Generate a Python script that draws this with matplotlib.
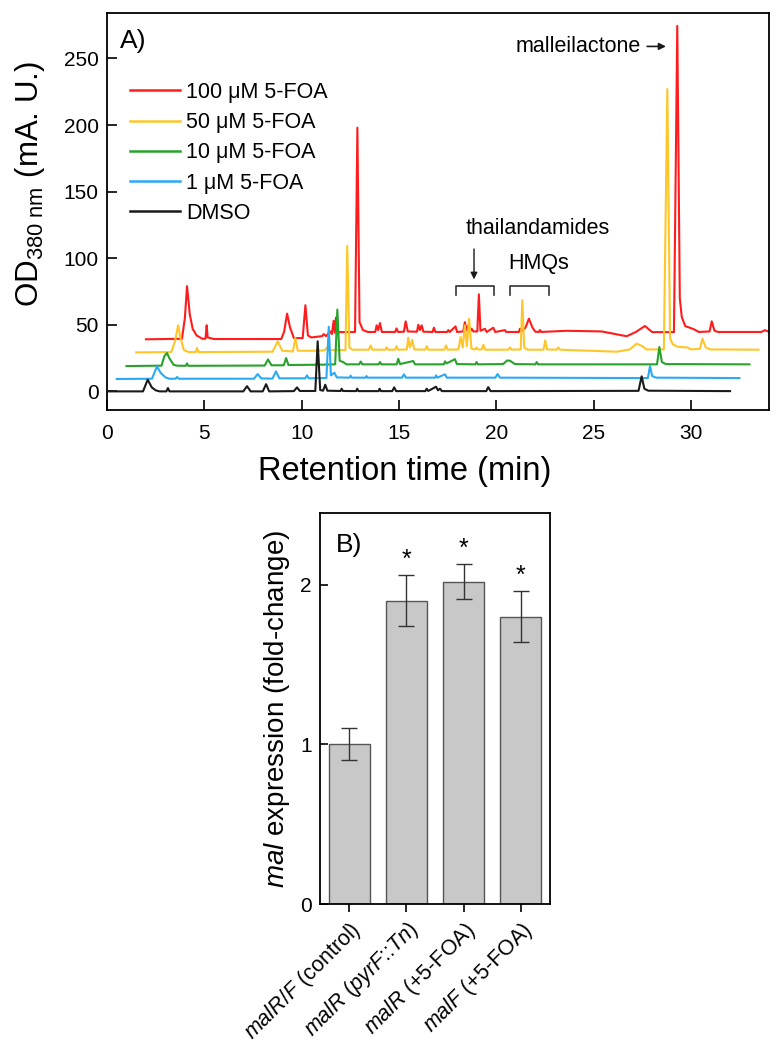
import matplotlib
matplotlib.use("Agg")
import matplotlib.pyplot as plt

plt.rcParams['font.family'] = ['Liberation Sans', 'DejaVu Sans']
plt.rcParams['mathtext.fontset'] = 'custom'
plt.rcParams['mathtext.rm'] = 'Liberation Sans'
plt.rcParams['mathtext.it'] = 'Liberation Sans:italic'

# --- panel A: chromatograms (raw retention time / signal) ---
dmso_t = [0.0, 1.85, 2.09, 2.3, 2.5, 2.7, 3.05, 3.13, 3.21, 7.0, 7.19, 7.38, 8.0, 8.17, 8.33,
          9.6, 9.76, 9.9, 10.7, 10.82, 10.95, 11.1, 11.21, 11.32, 12.0, 12.05, 12.12,
          12.8, 12.85, 12.92, 13.95, 14.0, 14.07, 14.65, 14.75, 14.85, 16.35, 16.42, 16.5,
          16.9, 17.0, 17.1, 17.2, 19.48, 19.58, 19.7, 27.3, 27.46, 27.6, 27.8, 32.0]
dmso_v = [0.0, 0.0, 8.8, 3.0, 0.8, 0.0, 0.0, 2.5, 0.0, 0.0, 3.9, 0.0, 0.0, 5.4, 0.0,
          0.2, 3.0, 0.3, 0.3, 37.6, 1.0, 0.5, 5.0, 0.5, 0.3, 2.0, 0.3,
          0.2, 2.0, 0.2, 0.2, 2.0, 0.2, 0.2, 3.0, 0.2, 0.2, 2.0, 0.3,
          3.5, 0.8, 2.0, 0.2, 0.2, 3.2, 0.2, 0.4, 11.3, 2.0, 0.5, 0.2]

foa1_t = [0.0, 1.81, 2.07, 2.25, 2.5, 2.7, 3.02, 3.1, 3.18, 7.05, 7.24, 7.42, 8.0, 8.18, 8.35,
          9.68, 9.77, 9.86, 10.77, 10.89, 11.0, 11.18, 11.3, 11.95, 12.01, 12.07,
          12.78, 12.83, 12.88, 14.65, 14.75, 14.85, 16.35, 16.4, 16.47, 16.86, 16.95,
          19.45, 19.56, 19.68, 27.28, 27.39, 27.5, 27.7, 31.98]
foa1_v = [-0.7, -0.5, 8.8, 4.0, 0.5, -0.5, -0.5, 0.8, -0.5, -0.5, 3.0, -0.3, -0.4, 5.0, -0.2,
          -0.2, 2.0, -0.2, 0.0, 38.5, 2.0, 4.0, 0.5, 0.3, 1.8, 0.3,
          0.3, 1.5, 0.3, 0.3, 2.8, 0.3, 0.3, 2.0, 0.3, 2.8, 0.3,
          0.3, 3.0, 0.3, 0.0, 9.0, 1.5, 0.3, 0.0]

foa10_t = [0.0, 1.8, 1.95, 2.08, 2.2, 2.42, 2.6, 3.05, 3.11, 3.17, 7.1, 7.27, 7.45, 8.08, 8.2, 8.32,
           9.72, 9.79, 9.86, 10.72, 10.83, 10.95, 11.13, 11.3, 11.95, 12.03, 12.11,
           12.95, 13.02, 13.09, 13.88, 13.96, 14.05, 14.73, 14.82, 16.3, 16.36, 16.45, 16.87, 16.97,
           17.92, 17.98, 18.05, 19.35, 19.55, 19.7, 19.95, 21.0, 21.07, 21.14,
           27.25, 27.37, 27.5, 27.7, 32.0]
foa10_v = [-1.0, -0.7, 6.5, 8.8, 5.0, 0.0, -0.7, -0.8, 1.0, -0.8, -0.6, 4.0, -0.4, -0.4, 5.0, -0.2,
           0.0, 1.0, 0.0, 0.3, 41.4, 3.0, 2.0, 0.3, 0.3, 2.4, 0.3,
           0.3, 2.0, 0.3, 0.3, 4.5, 0.5, 2.8, 0.3, 0.3, 2.5, 1.0, 4.2, 0.5,
           0.3, 2.0, 0.3, 0.5, 3.2, 3.0, 0.5, 0.3, 2.0, 0.3,
           0.3, 13.3, 2.0, 0.5, 0.3]

foa50_t = [0.0, 1.8, 2.0, 2.15, 2.28, 2.45, 2.7, 3.05, 3.12, 3.2, 7.0, 7.27, 7.5, 8.05, 8.17, 8.3,
           9.25, 9.32, 9.4, 9.7, 9.8, 9.9, 10.75, 10.84, 10.95, 11.1, 11.95, 12.04, 12.13,
           12.8, 12.86, 12.93, 13.3, 13.37, 13.45, 13.9, 13.97, 14.06, 14.18, 14.28,
           14.85, 14.92, 15.0, 15.83, 15.91, 16.0, 16.55, 16.66, 16.77, 16.88, 16.98, 17.1, 17.22,
           17.42, 17.48, 17.55, 17.75, 17.83, 17.92, 19.12, 19.2, 19.28,
           19.75, 19.83, 19.93, 20.1, 20.92, 21.01, 21.1, 21.6, 21.68, 21.76, 24.68,
           25.35, 25.7, 26.0, 26.2, 27.1, 27.28, 27.42, 27.55, 27.8, 28.3, 28.5,
           28.95, 29.08, 29.25, 29.5, 31.96]
foa50_v = [-0.7, -0.5, 8.0, 19.6, 10.0, 1.0, -0.5, -0.5, 2.6, -0.5, -0.2, 7.6, 0.5, 0.0, 10.0, 0.5,
           0.5, 2.0, 0.5, 1.0, 3.0, 1.0, 1.0, 79.3, 3.0, 1.3, 1.3, 4.5, 1.3,
           1.3, 3.0, 1.3, 1.3, 4.0, 1.3, 1.5, 10.3, 3.0, 8.8, 1.5,
           1.3, 4.0, 1.3, 1.3, 4.5, 1.3, 1.5, 10.8, 3.0, 19.6, 4.0, 24.6, 2.0,
           1.5, 3.0, 1.5, 1.5, 5.0, 1.3, 1.3, 3.0, 1.3,
           1.5, 38.4, 3.0, 1.3, 1.3, 8.3, 1.5, 1.3, 3.0, 1.3, -0.2,
           1.5, 5.8, 4.0, 1.5, 1.5, 197.0, 10.0, 5.5, 3.5, 3.0, 1.5,
           2.0, 9.6, 3.0, 1.5, 1.3]

foa100_t = [0.0, 1.85, 2.0, 2.11, 2.25, 2.4, 2.6, 2.9, 3.06, 3.12, 3.17, 3.5, 6.95, 7.1, 7.25, 7.4, 7.6,
            8.05, 8.19, 8.32, 8.5, 9.05, 9.13, 9.25, 9.47, 9.55, 9.64, 9.7, 9.76, 9.84,
            10.74, 10.86, 10.97, 11.15, 11.4, 11.78, 11.85, 11.93, 12.02, 12.12,
            12.8, 12.87, 12.95, 13.25, 13.34, 13.45, 13.92, 13.99, 14.07, 14.16, 14.25,
            14.72, 14.79, 14.87, 15.47, 15.53, 15.6, 15.9, 15.98,
            16.3, 16.38, 16.47, 16.56, 16.65, 16.73, 16.82, 17.02, 17.1, 17.18,
            17.41, 17.5, 17.84, 17.94, 18.44, 18.5, 19.15, 19.21, 19.3, 19.5, 19.67, 19.85, 20.0,
            20.18, 20.24, 20.3, 21.61, 23.41, 24.69, 25.15, 25.63, 26.0,
            27.12, 27.29, 27.42, 27.52, 27.7, 28.12, 28.4, 28.95, 29.06, 29.2, 29.4,
            31.6, 31.8, 32.0]
foa100_v = [-0.9, -0.5, 15.0, 39.0, 18.0, 7.0, 2.0, -0.5, -0.5, 9.6, 0.5, -0.7, -0.7, 5.0, 18.4, 8.0, 0.0,
            0.0, 24.7, 2.0, 0.5, 1.5, 3.0, 1.5, 5.0, 3.0, 13.0, 4.0, 15.4, 4.5,
            4.6, 158.0, 12.0, 6.0, 4.6, 4.6, 9.6, 6.0, 11.3, 4.6,
            4.6, 7.3, 4.6, 4.8, 12.6, 5.0, 4.8, 10.0, 6.0, 9.6, 4.8,
            4.6, 7.8, 4.6, 4.6, 6.0, 4.6, 8.8, 4.6,
            5.0, 12.0, 6.0, 9.6, 5.0, 7.0, 5.0, 5.0, 32.9, 5.5,
            7.0, 4.6, 7.8, 4.6, 6.0, 4.6, 4.6, 7.0, 5.0, 8.0, 14.6, 8.0, 4.8,
            4.6, 6.0, 4.6, 5.5, 5.0, 1.4, 4.5, 9.1, 4.5,
            4.5, 234.4, 30.0, 15.9, 9.0, 6.8, 4.6, 5.0, 12.6, 5.5, 4.6,
            4.6, 6.0, 4.6]

trace_labels = ['100 \u03bcM 5-FOA', '50 \u03bcM 5-FOA', '10 \u03bcM 5-FOA', '1 \u03bcM 5-FOA', 'DMSO']
trace_t = [foa100_t, foa50_t, foa10_t, foa1_t, dmso_t]
trace_v = [foa100_v, foa50_v, foa10_v, foa1_v, dmso_v]
trace_colors = ['#ff1c1c', '#ffc629', '#27a32a', '#2aa9f5', '#1a1a1a']

# --- panel B: qRT-PCR ---
strains = [r'$\it{malR/F}$ (control)', r'$\it{malR}$ ($\it{pyrF}$::$\it{Tn}$)',
           r'$\it{malR}$ (+5-FOA)', r'$\it{malF}$ (+5-FOA)']
fold = [1.00, 1.90, 2.02, 1.80]
fold_err = [0.10, 0.16, 0.11, 0.16]
signif = [False, True, True, True]

fig = plt.figure(figsize=(7.81, 10.5), dpi=100)

# waterfall offsets: each trace shifted 0.5 min and 10 mAU from the one below
ax = fig.add_axes([0.137, 0.6095, 0.8476, 0.378])
n = len(trace_t)
for i in range(n):
    k = n - 1 - i
    xs = [t + 0.5 * k for t in trace_t[i]]
    ys = [v + 10 * k for v in trace_v[i]]
    ax.plot(xs, ys, color=trace_colors[i], lw=1.5, label=trace_labels[i], zorder=2 + i)

ax.set_xlim(0, 34)
ax.set_ylim(-14, 284)
ax.set_xticks([0, 5, 10, 15, 20, 25, 30])
ax.set_yticks([0, 50, 100, 150, 200, 250])
ax.tick_params(direction='in', length=7, width=1.2, labelsize=15)
ax.tick_params(axis='x', pad=10)
ax.tick_params(axis='y', pad=6)
for s in ax.spines.values():
    s.set_linewidth(1.3)
ax.set_xlabel('Retention time (min)', fontsize=23.5)
ax.xaxis.set_label_coords(0.45, -0.115)
ax.set_ylabel(r'OD$_{\mathrm{380\ nm}}$ (mA. U.)', fontsize=22.5)
ax.yaxis.set_label_coords(-0.09, 0.57)
ax.text(0.02, 0.96, 'A)', transform=ax.transAxes, fontsize=19, va='top', ha='left')

leg = ax.legend(loc='upper left', bbox_to_anchor=(0.035, 0.827), frameon=False, fontsize=15.5,
                handlelength=2.3, handletextpad=0.3, labelspacing=0.43, borderpad=0, borderaxespad=0)
for h in leg.get_lines():
    h.set_linewidth(1.8)

# annotations
ax.annotate('', xy=(28.85, 259), xytext=(27.6, 259),
            arrowprops=dict(arrowstyle='-|>', color='#1a1a1a', lw=1.2, mutation_scale=10))
ax.text(27.4, 259, 'malleilactone', fontsize=15.5, ha='right', va='center')
ax.text(22.1, 122, 'thailandamides', fontsize=15.5, ha='center', va='center')
ax.annotate('', xy=(18.85, 82), xytext=(18.85, 109),
            arrowprops=dict(arrowstyle='-|>', color='#1a1a1a', lw=1.0, mutation_scale=10))
ax.text(22.15, 96, 'HMQs', fontsize=15.5, ha='center', va='center')
for a, b in [(17.9, 19.9), (20.7, 22.68)]:
    ax.plot([a, a, b, b], [72, 79, 79, 72], color='#333333', lw=1.2)

# panel B
bx = fig.add_axes([0.4097, 0.139, 0.2945, 0.3724])
pos = list(range(len(fold)))
bx.bar(pos, fold, width=0.72, color='#c8c8c8', edgecolor='#555555', linewidth=1.0, zorder=2)
bx.errorbar(pos, fold, yerr=fold_err, fmt='none', ecolor='#333333', elinewidth=1.0,
            capsize=6, capthick=1.0, zorder=3)
for p, f, e, s in zip(pos, fold, fold_err, signif):
    if s:
        bx.text(p, f + e + 0.02, '*', ha='center', va='bottom', fontsize=18)
bx.set_xlim(-0.51, 3.51)
bx.set_ylim(0, 2.45)
bx.set_yticks([0, 1, 2])
bx.set_xticks(pos)
bx.set_xticklabels(strains, rotation=45, ha='right', va='top', rotation_mode='anchor', fontsize=15.5)
bx.tick_params(axis='y', direction='in', length=6, width=1.2, labelsize=15, pad=6)
bx.tick_params(axis='x', direction='out', length=6, width=1.2, pad=4)
for s in bx.spines.values():
    s.set_linewidth(1.3)
bx.set_ylabel(r'$\it{mal}$ expression (fold-change)', fontsize=20, labelpad=6)
bx.text(0.07, 0.95, 'B)', transform=bx.transAxes, fontsize=19, va='top', ha='left')

fig.savefig('out.png', dpi=100)
